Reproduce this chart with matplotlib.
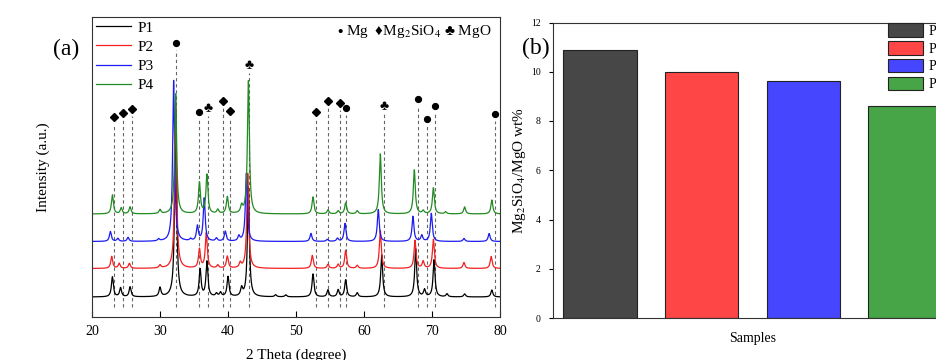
import numpy as np
import matplotlib
matplotlib.use("Agg")
import matplotlib.pyplot as plt
from matplotlib.patches import Patch

plt.rcParams["font.family"] = ["Liberation Serif", "DejaVu Sans"]
plt.rcParams["mathtext.fontset"] = "stix"

# ---- (a) XRD patterns: peak lists (2theta, height) ----
samples = ["P1", "P2", "P3", "P4"]
line_colors = ["#000000", "#f22020", "#1c1cf0", "#228b22"]
offsets = [20, 48.5, 75.5, 103]

p1_pos = [23.0, 24.2, 25.6, 30.0, 32.3, 35.9, 36.9, 38.3, 38.9, 40.0, 42.0, 43.0,
          47.0, 48.5, 52.5, 54.7, 56.2, 57.3, 59.0, 62.6, 67.6, 68.9, 70.3, 72.2, 74.8, 78.8]
p1_h = [20, 9, 10, 9, 185, 27, 35, 3, 4, 20, 8, 110,
        2, 2, 23, 7, 7, 17, 4, 42, 48, 7, 37, 3, 3, 7]

p2_pos = [22.9, 24.0, 25.5, 30.0, 32.3, 35.8, 36.8, 38.5, 39.9, 41.8, 42.9,
          52.4, 54.7, 56.2, 57.3, 59.0, 62.4, 67.5, 68.7, 70.2, 74.7, 78.7]
p2_h = [12, 5, 5, 3, 165, 19, 35, 3, 12, 5, 95,
        13, 4, 4, 18, 3, 38, 28, 7, 29, 6, 12]

p3_pos = [22.7, 23.8, 25.3, 29.8, 32.0, 34.5, 35.5, 36.5, 38.3, 39.6, 41.6, 42.7,
          52.2, 54.6, 56.1, 57.2, 62.1, 67.2, 68.5, 69.9, 74.7, 78.4]
p3_h = [10, 3, 4, 2, 161, 2, 15, 43, 3, 10, 5, 68,
        8, 2, 3, 18, 32, 25, 6, 28, 3, 8]

p4_pos = [23.0, 24.3, 25.6, 30.0, 32.3, 35.8, 36.9, 38.5, 39.9, 42.0, 43.0,
          52.5, 54.7, 56.2, 57.3, 59.0, 62.4, 67.4, 68.7, 70.2, 72.0, 74.8, 78.8]
p4_h = [19, 6, 7, 4, 120, 31, 39, 4, 17, 7, 133,
        17, 4, 3, 11, 3, 60, 44, 3, 26, 2, 7, 14]

# phase markers: position, marker height
mg_pos = [32.3, 35.8, 57.4, 67.9, 69.2, 70.4, 79.2]
mg_y = [274, 205, 209, 218, 198, 211, 203]
fo_pos = [23.2, 24.5, 25.9, 39.3, 40.3, 52.9, 54.7, 56.4]
fo_y = [200, 204, 208, 216, 206, 205, 216, 214]
mgo_pos = [37.1, 43.1, 62.95]
mgo_y = [208, 251, 210]

# ---- (b) Mg2SiO4/MgO ratio ----
ratio = [10.87, 9.97, 9.63, 8.6]
bar_colors = ["#474747", "#ff4646", "#4646ff", "#47a447"]

peaks = [(p1_pos, p1_h), (p2_pos, p2_h), (p3_pos, p3_h), (p4_pos, p4_h)]

fig = plt.figure(figsize=(9.37, 3.6), dpi=100)

ax = fig.add_axes([92 / 937, 43 / 360, 408 / 937, 300 / 360])
tt = np.linspace(20, 80, 6001)
hw = 0.17
for (pos, h), off, c, name in zip(peaks, offsets, line_colors, samples):
    y = np.full_like(tt, off)
    for p, a in zip(pos, h):
        y += a / (1 + ((tt - p) / hw) ** 2)
    ax.plot(tt, y, color=c, lw=0.9, label=name)

dash = dict(ls=(0, (3, 2.5)), color="#666666", lw=0.8, zorder=0)
for pos, ys in [(mg_pos, mg_y), (fo_pos, fo_y), (mgo_pos, mgo_y)]:
    for p, yy in zip(pos, ys):
        ax.plot([p, p], [10, yy - 7], **dash)
ax.plot(mg_pos, mg_y, ls="none", marker="o", ms=4.2, color="black")
ax.plot(fo_pos, fo_y, ls="none", marker="D", ms=4.5, color="black")
for p, yy in zip(mgo_pos, mgo_y):
    ax.text(p, yy, "♣", fontsize=10, ha="center", va="center")

ax.set_xlim(20, 80)
ax.set_ylim(0, 300)
ax.set_yticks([])
ax.set_xticks(range(20, 81, 10))
ax.tick_params(axis="x", direction="in", length=4, labelsize=10, pad=6)
ax.set_xlabel("2 Theta (degree)", fontsize=11, labelpad=7)
ax.set_ylabel("Intensity (a.u.)", fontsize=11, labelpad=30)
for s in ax.spines.values():
    s.set_color("#333333")
ax.legend(loc="upper left", bbox_to_anchor=(0.0, 1.0), frameon=False, fontsize=11,
          handlelength=2.3, handletextpad=0.4, labelspacing=0.36, borderaxespad=0.1,
          borderpad=0.15)
ax.text(0.98, 0.95, "$\\bullet$ Mg  ♦Mg$_2$SiO$_4$ ♣ MgO",
        transform=ax.transAxes, ha="right", va="center", fontsize=11)
fig.text(66 / 937, 1 - 49 / 360, "(a)", fontsize=17, ha="center", va="center")

bx = fig.add_axes([553 / 937, 42 / 360, 399 / 937, 295.5 / 360])
xs = np.arange(len(samples))
bx.bar(xs, ratio, width=0.72, color=bar_colors, edgecolor="#222222", lw=0.8)
bx.set_xlim(-0.462, 3.462)
bx.set_ylim(0, 12)
bx.set_xticks([])
bx.set_yticks(range(0, 13, 2))
bx.tick_params(axis="y", direction="out", length=3, labelsize=7, pad=6)
bx.set_xlabel("Samples", fontsize=10, labelpad=10)
bx.set_ylabel("Mg$_2$SiO$_4$/MgO wt%", fontsize=11, labelpad=2)
for s in bx.spines.values():
    s.set_color("#333333")
handles = [Patch(facecolor=c, edgecolor="#222222", lw=0.8) for c in bar_colors]
bx.legend(handles, samples, loc="upper left", bbox_to_anchor=(0.84, 0.997), frameon=False,
          fontsize=10, handlelength=2.5, handleheight=1.1, handletextpad=0.4,
          labelspacing=0.25, borderpad=0, borderaxespad=0)
fig.text(536 / 937, 1 - 48 / 360, "(b)", fontsize=17, ha="center", va="center")

fig.savefig("out.png", dpi=100)
